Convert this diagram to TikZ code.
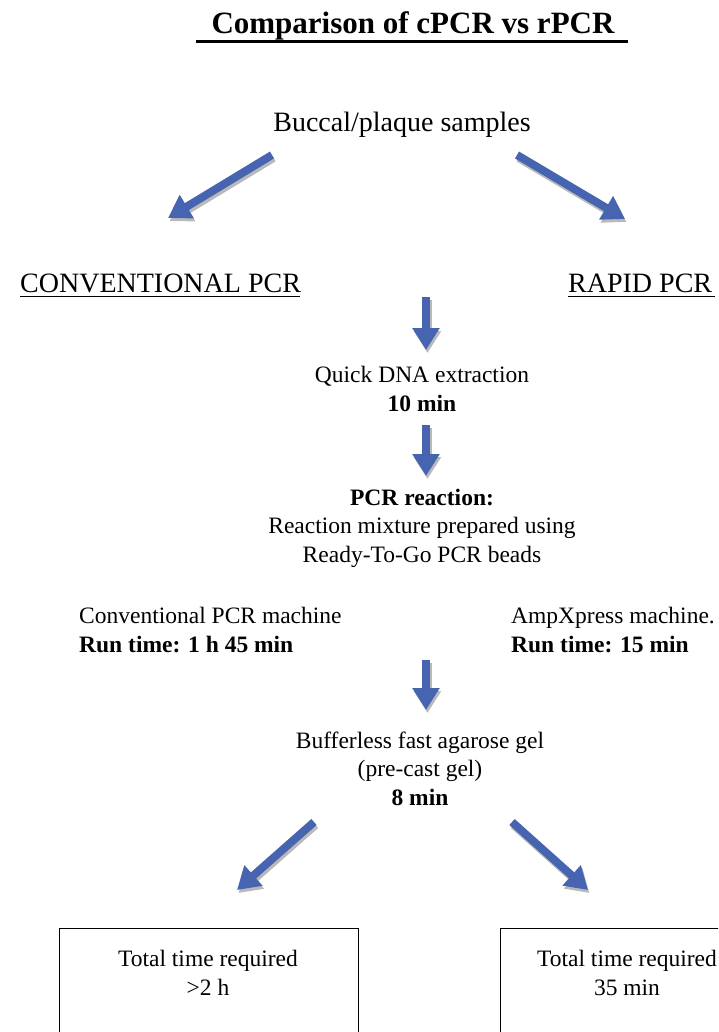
\documentclass[tikz,border=0pt]{standalone}
\usepackage{fontspec}
\setmainfont{Liberation Serif}
\usetikzlibrary{arrows.meta}
\definecolor{arrowblue}{RGB}{70,100,176}
\definecolor{shadowgray}{RGB}{185,185,185}
\tikzset{
  fatarrow/.style={draw=arrowblue, line width=8pt, -{Triangle[width=26pt,length=22pt]}},
  fatshadow/.style={draw=shadowgray, line width=8pt, -{Triangle[width=26pt,length=22pt]}},
  txt/.style={inner sep=0pt, font=\fontsize{23.5}{28.5}\selectfont, align=center},
  bigtxt/.style={inner sep=0pt, font=\fontsize{28}{33}\selectfont},
  titletxt/.style={inner sep=0pt, font=\fontsize{31}{36}\selectfont\bfseries},
  boxstyle/.style={draw=black, line width=1pt}
}
\begin{document}
\begin{tikzpicture}[x=1pt,y=-1pt]
\clip (0,0) rectangle (718,1032);
\fill[white] (0,0) rectangle (718,1032);
% title
\node[titletxt, anchor=base] (title) at (413,34) {Comparison of cPCR vs rPCR};
\draw[line width=3pt] (196,42) -- (628,42);
\node[bigtxt, anchor=base] (sample) at (402,132) {Buccal/plaque samples};
% branch arrows
\coordinate (a1s) at (272,155); \coordinate (a1e) at (168,218);
\coordinate (a2s) at (517,155); \coordinate (a2e) at (625,219);
\foreach \s/\e in {a1s/a1e,a2s/a2e}{
  \draw[fatshadow] ([shift={(1.5,3)}]\s) -- ([shift={(1.5,3)}]\e);
  \draw[fatarrow] (\s) -- (\e);
}
\node[bigtxt, anchor=base west] (conv) at (20,292) {CONVENTIONAL PCR};
\draw[line width=1.2pt] (conv.base west) ++(0,4.5) -- ++(280,0);
\node[bigtxt, anchor=base west] (rapid) at (568,292) {RAPID PCR};
\draw[line width=1.2pt] (rapid.base west) ++(0,4.5) -- ++(147,0);
% down arrow 1
\coordinate (d1s) at (426,297); \coordinate (d1e) at (426,350);
\draw[fatshadow] ([shift={(1.5,3)}]d1s) -- ([shift={(1.5,3)}]d1e);
\draw[fatarrow] (d1s) -- (d1e);
\node[txt, anchor=base] (extr) at (422,411) {Quick DNA extraction\\\textbf{10 min}};
% down arrow 2
\coordinate (d2s) at (426,425); \coordinate (d2e) at (426,476);
\draw[fatshadow] ([shift={(1.5,3)}]d2s) -- ([shift={(1.5,3)}]d2e);
\draw[fatarrow] (d2s) -- (d2e);
\node[txt, anchor=base] (pcr) at (422,562) {\textbf{PCR reaction:}\\Reaction mixture prepared using\\Ready-To-Go PCR beads};
\node[txt, anchor=base west, align=left] (convm) at (79,652) {Conventional PCR machine\\\textbf{Run time: 1 h 45 min}};
\node[txt, anchor=base west, align=left] (ampx) at (511,652) {AmpXpress machine.\\\textbf{Run time: 15 min}};
% down arrow 3
\coordinate (d3s) at (426,660); \coordinate (d3e) at (426,710);
\draw[fatshadow] ([shift={(1.5,3)}]d3s) -- ([shift={(1.5,3)}]d3e);
\draw[fatarrow] (d3s) -- (d3e);
\node[txt, anchor=base] (gel) at (420,805) {Bufferless fast agarose gel\\(pre-cast gel)\\\textbf{8 min}};
% final arrows
\coordinate (b1s) at (314,822); \coordinate (b1e) at (237,890);
\coordinate (b2s) at (512,822); \coordinate (b2e) at (588,890);
\foreach \s/\e in {b1s/b1e,b2s/b2e}{
  \draw[fatshadow] ([shift={(1.5,3)}]\s) -- ([shift={(1.5,3)}]\e);
  \draw[fatarrow] (\s) -- (\e);
}
% boxes
\draw[boxstyle] (59,1045) -- (59,928) -- (358,928) -- (358,1045);
\draw[boxstyle] (500,1045) -- (500,928) -- (730,928);
\node[txt, anchor=base] (tl) at (208,995) {Total time required\\>2 h};
\node[txt, anchor=base] (tr) at (627,995) {Total time required\\35 min};
\end{tikzpicture}
\end{document}
